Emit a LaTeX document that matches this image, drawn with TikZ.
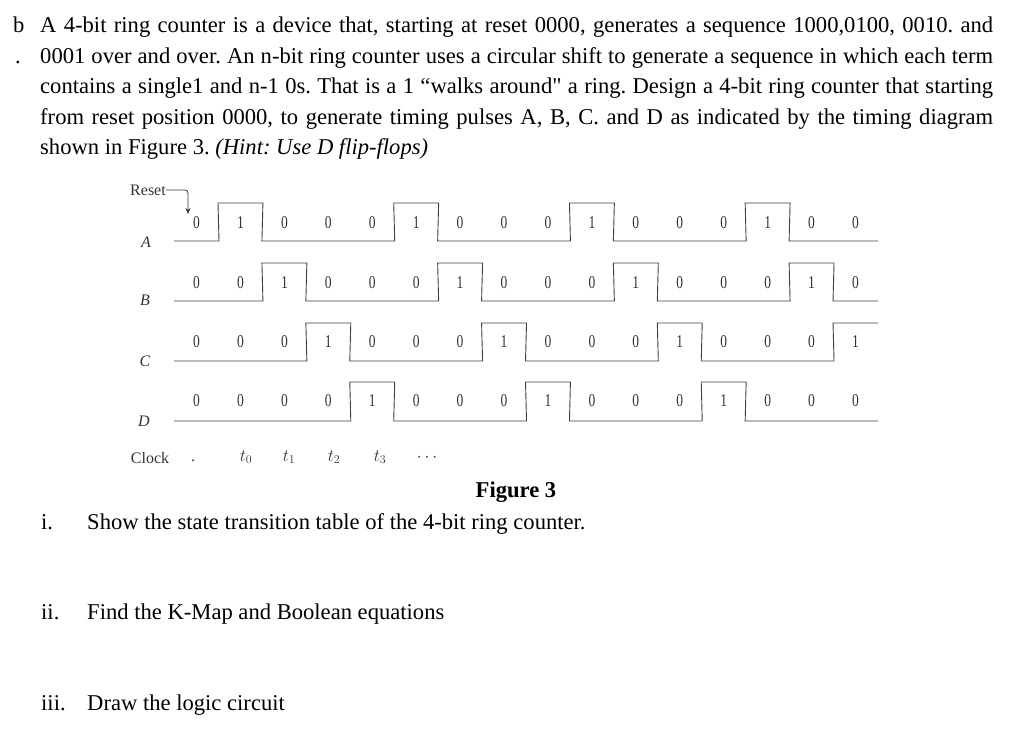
\documentclass[tikz,border=0pt]{standalone}
\usepackage{fontspec}
\usepackage{graphicx}
\setmainfont{Liberation Serif}
\newfontfamily\rawserif{Liberation Serif}
\usetikzlibrary{arrows.meta,positioning}
\frenchspacing

\newcommand\colw{44.93}
% one waveform: #1 low level, #2 high level, #3 bits
\newcommand\wave[3]{%
  \draw[wave] (174,#1) \foreach \b [count=\k,
      evaluate=\k as \xl using 220+(\k-2)*\colw-(\k==1)*1.07,
      evaluate=\k as \xr using 220+(\k-1)*\colw-(\k==16)*8.95,
      evaluate=\b as \yy using #1+\b*(#2-#1)] in {#3} { -- (\xl,\yy) -- (\xr,\yy) };}
% the bit values above a waveform: #1 row name, #2 y, #3 bits
\newcommand\bits[3]{%
  \foreach \b [count=\k, evaluate=\k as \xc using 220+(\k-1.5)*\colw-(\k==1)*9.5] in {#3}
    \node[bit] (#1\k) at (\xc,#2) {\scalebox{0.75}[1]{\b}};}

\begin{document}
\begin{tikzpicture}[x=1pt, y=-1pt, >=Stealth,
    txt/.style={inner sep=0pt, anchor=base west, font=\fontsize{22.6}{31}\selectfont},
    bit/.style={inner sep=0pt, text=black!80, font=\fontsize{18}{18}\selectfont},
    sig/.style={inner sep=0pt, text=black!80, font=\fontsize{16}{16}\selectfont\itshape},
    lbl/.style={inner sep=0pt, text=black!80, font=\fontsize{16}{16}\selectfont},
    wave/.style={draw=black!75, line width=0.9pt}]
  \useasboundingbox (0,0) rectangle (1015,731);

  % Define nodes
  \node[txt] (b) at (13,32) {b};
  \node[txt] (bdot) at (15,63) {.};
  \node[txt] (l1) at (40,32) {\makebox[953pt][s]{A 4-bit ring counter is a device that, starting at reset 0000, generates a sequence 1000,0100, 0010. and}};
  \node[txt] (l2) at (40,63) {\makebox[953pt][s]{0001 over and over. An n-bit ring counter uses a circular shift to generate a sequence in which each term}};
  \node[txt] (l3) at (40,93) {\makebox[953pt][s]{contains a single1 and n-1 0s. That is a 1 ``walks around{\rawserif"} a ring. Design a 4-bit ring counter that starting}};
  \node[txt] (l4) at (40,124) {\makebox[953pt][s]{from reset position 0000, to generate timing pulses A, B, C. and D as indicated by the timing diagram}};
  \node[txt] (l5) at (40,154) {shown in Figure 3. \textit{(Hint: Use D flip-flops)}};

  % Timing diagram
  \node[lbl] (reset) at (148,190) {Reset};
  \coordinate (rtip) at (188,214);
  \node[sig] (A) at (146,242) {A};
  \node[sig] (B) at (145,300) {B};
  \node[sig] (C) at (145,361) {C};
  \node[sig] (D) at (144,421) {D};
  \node[lbl] (clk) at (150,458) {Clock};
  \node[lbl] (cdot) at (193,461) {.};
  \foreach \t/\x in {0/246,1/289,2/334,3/380}
    \node[lbl, font=\fontsize{18}{18}\selectfont] (t\t) at (\x,457) {$t_\t$};
  \node[lbl] (tdots) at (427,458) {$\cdots$};

  \bits{A}{223}{0,1,0,0,0,1,0,0,0,1,0,0,0,1,0,0}
  \bits{B}{283}{0,0,1,0,0,0,1,0,0,0,1,0,0,0,1,0}
  \bits{C}{342}{0,0,0,1,0,0,0,1,0,0,0,1,0,0,0,1}
  \bits{D}{401}{0,0,0,0,1,0,0,0,1,0,0,0,1,0,0,0}

  \wave{241}{203}{0,1,0,0,0,1,0,0,0,1,0,0,0,1,0,0}
  \wave{301}{263}{0,0,1,0,0,0,1,0,0,0,1,0,0,0,1,0}
  \wave{361}{323}{0,0,0,1,0,0,0,1,0,0,0,1,0,0,0,1}
  \wave{421}{382}{0,0,0,0,1,0,0,0,1,0,0,0,1,0,0,0}

  % Draw arrows
  \draw[->, black!80, line width=0.8pt, rounded corners=3pt, >={Stealth[length=6pt,width=5pt]}] (reset.east) -| (rtip);

  % Questions
  \node[txt, anchor=base] (fig) at (516,497) {\textbf{Figure 3}};
  \node[txt] (i1) at (41,529) {i.};
  \node[txt] (q1) at (87,529) {Show the state transition table of the 4-bit ring counter.};
  \node[txt] (i2) at (41,619) {ii.};
  \node[txt] (q2) at (87,619) {Find the K-Map and Boolean equations};
  \node[txt] (i3) at (41,710) {iii.};
  \node[txt] (q3) at (87,710) {Draw the logic circuit};
\end{tikzpicture}
\end{document}
